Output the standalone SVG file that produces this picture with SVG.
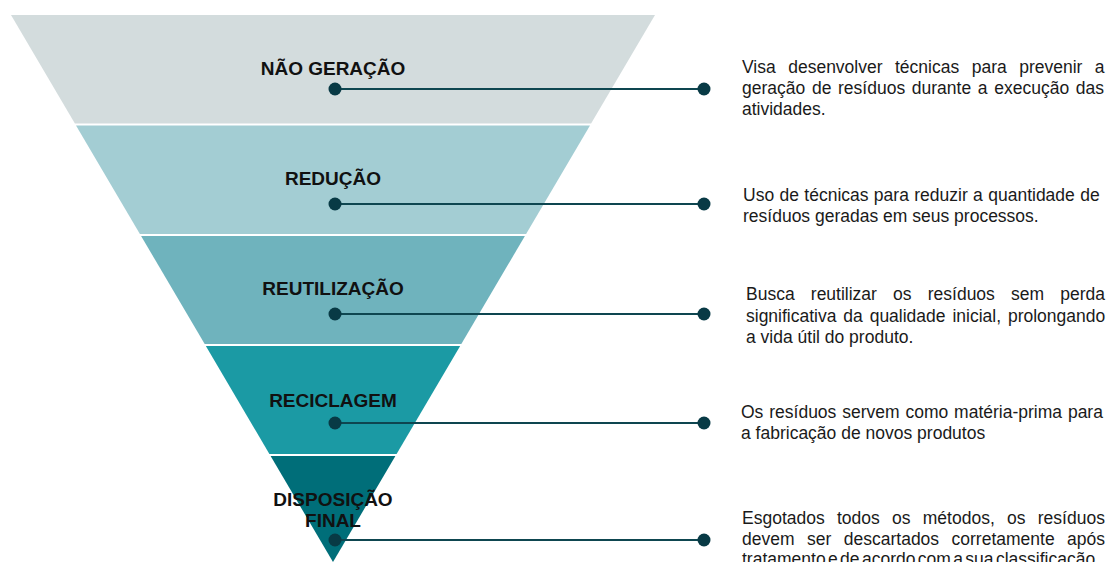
<svg xmlns="http://www.w3.org/2000/svg" width="1108" height="562" viewBox="0 0 1108 562">
<style>
.lbl{font-family:"Liberation Sans",Arial,sans-serif;font-weight:bold;font-size:19px;fill:#111;text-anchor:middle}
.desc{font-family:"Liberation Sans",Arial,sans-serif;font-size:17.5px;fill:#1a1a1a}
.conn{stroke:#0e4650;stroke-width:2.2;fill:none}
.dot{fill:#083a45}
</style>
<rect width="1108" height="562" fill="#ffffff"/>
<g id="nao-geracao">
<polygon points="11,15 655,15 591.1,123.5 74.9,123.5" fill="#d3dcdd"/>
<text class="lbl" x="333" y="75">NÃO GERAÇÃO</text>
</g>
<g id="reducao">
<polygon points="76,125.5 590,125.5 526.1,234 139.9,234" fill="#a3cdd3"/>
<text class="lbl" x="333" y="185">REDUÇÃO</text>
</g>
<g id="reutilizacao">
<polygon points="141.1,236 524.9,236 461.3,344 204.7,344" fill="#6fb3bd"/>
<text class="lbl" x="333" y="295">REUTILIZAÇÃO</text>
</g>
<g id="reciclagem">
<polygon points="205.85,346 460.15,346 396.6,454 269.4,454" fill="#1b9aa4"/>
<text class="lbl" x="333" y="406.5">RECICLAGEM</text>
</g>
<g id="disposicao-final">
<polygon points="270.6,456 395.4,456 333,562" fill="#006e79"/>
<text class="lbl" x="333" y="506">DISPOSIÇÃO</text>
<text class="lbl" x="333" y="526.5">FINAL</text>
</g>
<g id="connectors">
<line class="conn" x1="335" y1="89" x2="704" y2="89"/>
<circle class="dot" cx="335" cy="89" r="6.5"/>
<circle class="dot" cx="704" cy="89" r="6.5"/>
<line class="conn" x1="335" y1="204" x2="704" y2="204"/>
<circle class="dot" cx="335" cy="204" r="6.5"/>
<circle class="dot" cx="704" cy="204" r="6.5"/>
<line class="conn" x1="335" y1="314" x2="704" y2="314"/>
<circle class="dot" cx="335" cy="314" r="6.5"/>
<circle class="dot" cx="704" cy="314" r="6.5"/>
<line class="conn" x1="335" y1="423" x2="704" y2="423"/>
<circle class="dot" cx="335" cy="423" r="6.5"/>
<circle class="dot" cx="704" cy="423" r="6.5"/>
<line class="conn" x1="335" y1="540" x2="704" y2="540"/>
<circle class="dot" cx="335" cy="540" r="6.5"/>
<circle class="dot" cx="704" cy="540" r="6.5"/>
</g>
<g id="desc-nao-geracao" class="desc">
<text x="742" y="73" word-spacing="7.6">Visa desenvolver técnicas para prevenir a</text>
<text x="742" y="94" word-spacing="1.8">geração de resíduos durante a execução das</text>
<text x="742" y="115">atividades.</text>
</g>
<g id="desc-reducao" class="desc">
<text x="743" y="201" word-spacing="0.5">Uso de técnicas para reduzir a quantidade de</text>
<text x="743" y="222">resíduos geradas em seus processos.</text>
</g>
<g id="desc-reutilizacao" class="desc">
<text x="746" y="300" word-spacing="11.3">Busca reutilizar os resíduos sem perda</text>
<text x="746" y="322" word-spacing="2">significativa da qualidade inicial, prolongando</text>
<text x="746" y="343">a vida útil do produto.</text>
</g>
<g id="desc-reciclagem" class="desc">
<text x="741" y="417.5" word-spacing="1">Os resíduos servem como matéria-prima para</text>
<text x="741" y="439">a fabricação de novos produtos</text>
</g>
<g id="desc-disposicao" class="desc">
<text x="742" y="524" word-spacing="7.4">Esgotados todos os métodos, os resíduos</text>
<text x="742" y="544.5" word-spacing="7.6">devem ser descartados corretamente após</text>
<text x="742" y="565" word-spacing="-2.5">tratamento e de acordo com a sua classificação.</text>
</g>
</svg>
